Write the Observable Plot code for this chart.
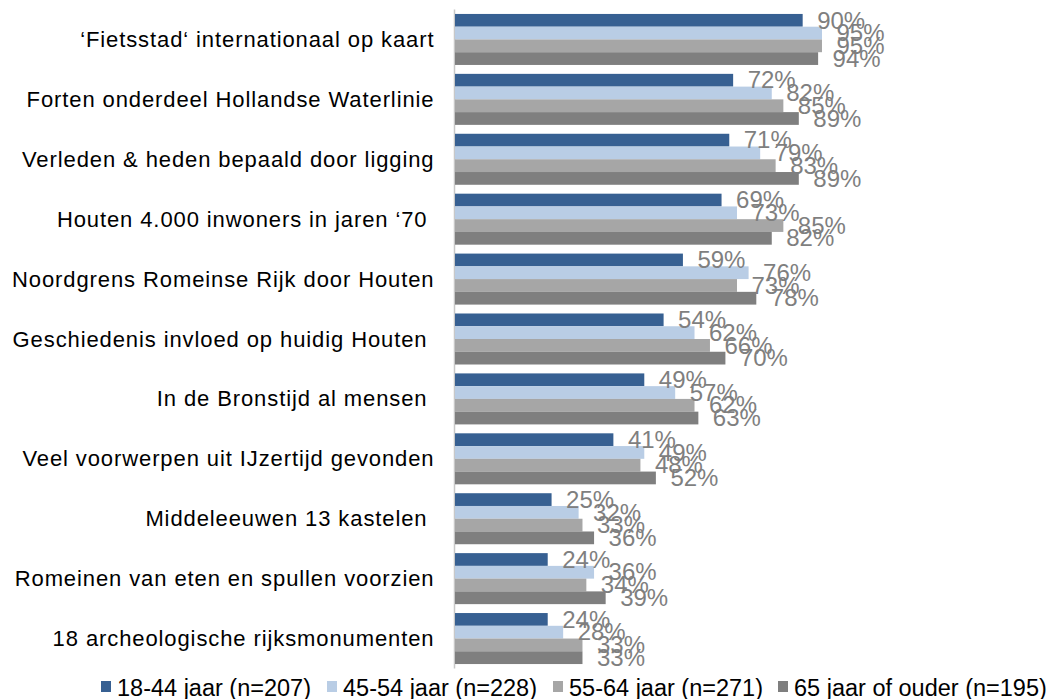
<!DOCTYPE html>
<html><head><meta charset="utf-8">
<script src="https://cdn.jsdelivr.net/npm/d3@7"></script>
<script src="https://cdn.jsdelivr.net/npm/@observablehq/plot@0.6"></script>
<style>
body{margin:0;background:#fff;font-family:"Liberation Sans",Arial,sans-serif;}
#legend{position:relative;height:29px;margin-top:4px;font-size:23.5px;line-height:28px;color:#000;white-space:nowrap}
.item{position:absolute;top:0;display:flex;align-items:center}
.sw{width:10px;height:11px;margin-right:6px;position:relative;top:-2px}
svg g[aria-label^="y-axis"] text{letter-spacing:0.9px}
</style></head><body><div id="chart"></div><div id="legend"></div>
<script>
const categories = [
  "‘Fietsstad‘ internationaal op kaart",
  "Forten onderdeel Hollandse Waterlinie",
  "Verleden & heden bepaald door ligging",
  "Houten 4.000 inwoners in jaren ‘70\u00a0",
  "Noordgrens Romeinse Rijk door Houten",
  "Geschiedenis invloed op huidig Houten\u00a0",
  "In de Bronstijd al mensen\u00a0",
  "Veel voorwerpen uit IJzertijd gevonden",
  "Middeleeuwen 13 kastelen\u00a0",
  "Romeinen van eten en spullen voorzien",
  "18 archeologische rijksmonumenten"
];
const seriesNames = ["18-44 jaar (n=207)", "45-54 jaar (n=228)", "55-64 jaar (n=271)", "65 jaar of ouder (n=195)"];
const values1844 = [90, 72, 71, 69, 59, 54, 49, 41, 25, 24, 24];
const values4554 = [95, 82, 79, 73, 76, 62, 57, 49, 32, 36, 28];
const values5564 = [95, 85, 83, 85, 73, 66, 62, 48, 33, 34, 33];
const values65plus = [94, 89, 89, 82, 78, 70, 63, 52, 36, 39, 33];
const seriesColors = ["#376092", "#B9CDE5", "#A6A6A6", "#7F7F7F"];
const legendLeft = [101, 327, 553, 778];

const seriesValues = [values1844, values4554, values5564, values65plus];
const data = [];
categories.forEach((c, i) => seriesValues.forEach((vals, k) =>
  data.push({category: c, series: seriesNames[k], value: vals[i], k})));

const W = 1054, H = 670, mT = 9.5, mB = 1.5;
const step = (H - mT - mB) / categories.length;
const outer = step * 0.0743, barH = (step - 2 * outer) / 4;

const marks = [Plot.ruleX([0], {stroke: "#c8c8c8", strokeWidth: 1.5, dx: -1})];
seriesNames.forEach((s, k) => {
  marks.push(Plot.barX(data.filter(d => d.k === k), {
    x: "value", y: "category", fill: seriesColors[k],
    insetTop: outer + barH * k, insetBottom: step - outer - barH * (k + 1)
  }));
});
seriesNames.forEach((s, k) => {
  marks.push(Plot.text(data.filter(d => d.k === k), {
    x: "value", y: "category", text: d => d.value + "%",
    textAnchor: "start", dx: 14, dy: outer + barH * (k + 0.5) - step / 2,
    fill: "#7F7F7F", fontSize: 24
  }));
});

const chart = Plot.plot({
  width: W, height: H,
  marginLeft: 455, marginRight: 212.7, marginTop: mT, marginBottom: mB,
  style: {fontFamily: "Liberation Sans, Arial, sans-serif", fontSize: "22px", background: "#fff", color: "#000", overflow: "visible"},
  x: {domain: [0, 100], axis: null},
  y: {domain: categories, padding: 0, round: false, label: null, tickSize: 0, tickPadding: 21},
  marks
});
document.getElementById("chart").appendChild(chart);

const legend = document.getElementById("legend");
seriesNames.forEach((s, k) => {
  const it = document.createElement("div"); it.className = "item"; it.style.left = legendLeft[k] + "px";
  const sw = document.createElement("span"); sw.className = "sw"; sw.style.background = seriesColors[k];
  const t = document.createElement("span"); t.textContent = s;
  it.appendChild(sw); it.appendChild(t); legend.appendChild(it);
});
</script></body></html>
